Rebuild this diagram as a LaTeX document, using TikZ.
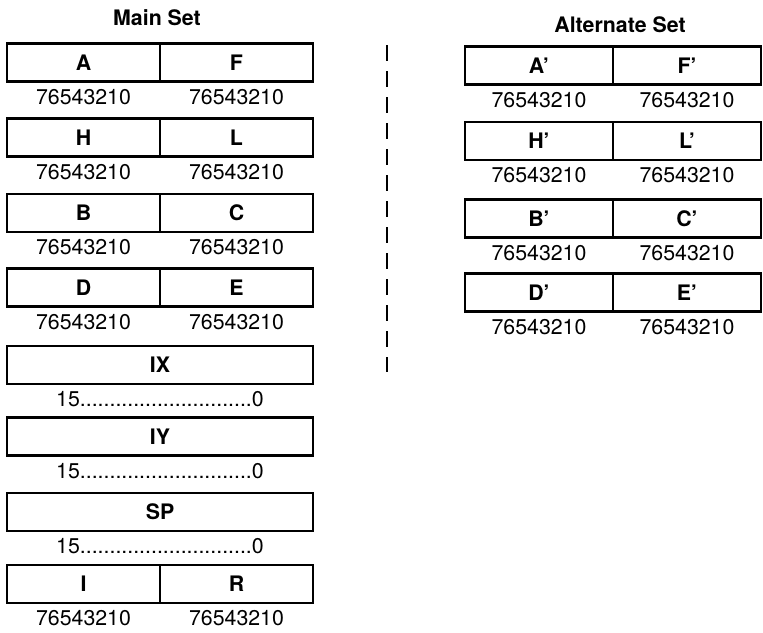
\documentclass[tikz,border=0pt]{standalone}
\usepackage{fontspec}
\setmainfont{TeX Gyre Heros}
\usetikzlibrary{positioning}

\begin{document}
\begin{tikzpicture}[
  x=0.75pt, y=-0.75pt,
  font=\fontsize{16}{19}\selectfont,
  node distance=4.5pt,
  half/.style={draw, line width=2pt, minimum width=114.75pt, minimum height=28.5pt,
               inner sep=0pt, font=\fontsize{16}{19}\selectfont\bfseries},
  ahalf/.style={half, minimum width=111pt},
  wide/.style={half, minimum width=229.5pt},
  bits/.style={inner sep=0pt},
  settitle/.style={font=\fontsize{16}{19}\selectfont\bfseries},
  divide/.style={line width=2pt, dash pattern=on 12pt off 7.5pt}
]
\useasboundingbox (0,0) rectangle (763,632);

% ---- titles ----
\node[settitle] (mainT) at (157,18) {Main Set};
\node[settitle] (altT)  at (620,25) {Alternate Set};

% ---- main set: 8-bit pairs ----
\foreach \lo/\hi/\y in {A/F/62.5, H/L/137.5, B/C/213, D/E/287.5, I/R/584} {
  \node[half] (m\lo) at (83.5,\y)  {\lo};
  \node[half] (m\hi) at (236.5,\y) {\hi};
  \node[bits, below=of m\lo] {76543210};
  \node[bits, below=of m\hi] {76543210};
}

% ---- main set: 16-bit registers ----
\foreach \r/\y in {IX/365, IY/436.5, SP/512} {
  \node[wide] (m\r) at (160,\y) {\r};
  \node[bits, below=of m\r] {15.............................0};
}

% ---- separator ----
\draw[divide] (387,45) -- (387,372);

% ---- alternate set ----
\foreach \lo/\hi/\y in {A/F/65.5, H/L/141, B/C/218.5, D/E/292.5} {
  \node[ahalf] (a\lo) at (539,\y) {\lo'};
  \node[ahalf] (a\hi) at (687,\y) {\hi'};
  \node[bits, below=of a\lo] {76543210};
  \node[bits, below=of a\hi] {76543210};
}

\end{tikzpicture}
\end{document}
